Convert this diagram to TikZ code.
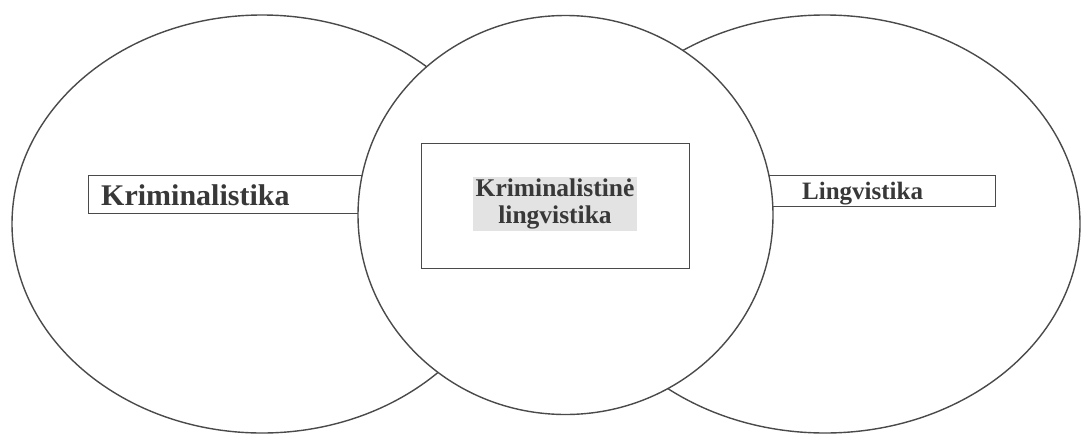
\documentclass[tikz,border=0pt]{standalone}
\usepackage{fontspec}
\setmainfont{Liberation Serif}
\usetikzlibrary{shapes.geometric}
\definecolor{linegray}{HTML}{4A4A4A}
\definecolor{textgray}{HTML}{383838}
\definecolor{hlgray}{HTML}{E3E3E3}
\begin{document}
\begin{tikzpicture}[x=1pt,y=-1pt,
  circ/.style={ellipse, draw=linegray, line width=1.4pt, fill=white, inner sep=0pt},
  lbl/.style={rectangle, draw=linegray, line width=1pt, fill=white, inner sep=0pt},
  txt/.style={text=textgray, inner sep=0pt}]
\useasboundingbox (0,0) rectangle (1086,434);
% outer ellipses
\node[circ, minimum width=500pt, minimum height=418pt] (left) at (262,224) {};
\node[circ, minimum width=510pt, minimum height=418pt] (right) at (825,224) {};
% side boxes (partly hidden by the middle ellipse)
\node[lbl, anchor=north west, minimum width=280pt, minimum height=38pt] (kbox) at (88,175) {};
\node[lbl, anchor=north west, minimum width=235pt, minimum height=31pt] (lbox) at (760,175) {};
% middle ellipse on top
\node[circ, minimum width=415pt, minimum height=399pt] (mid) at (565.5,215) {};
% middle box
\node[lbl, minimum width=268pt, minimum height=125pt] (mbox) at (555,205.5) {};
% texts
\node[txt, anchor=base west, font=\fontsize{30}{36}\selectfont\bfseries] (ktxt) at (101,205) {Kriminalistika};
\node[txt, anchor=base west, font=\fontsize{25}{30}\selectfont\bfseries] (ltxt) at (802,199) {Lingvistika};
\node[txt, fill=hlgray, inner xsep=3pt, inner ysep=2pt, align=center,
      font=\fontsize{25.5}{27}\selectfont\bfseries] (mtxt) at (555,204) {Kriminalistinė\\lingvistika};
\end{tikzpicture}
\end{document}
